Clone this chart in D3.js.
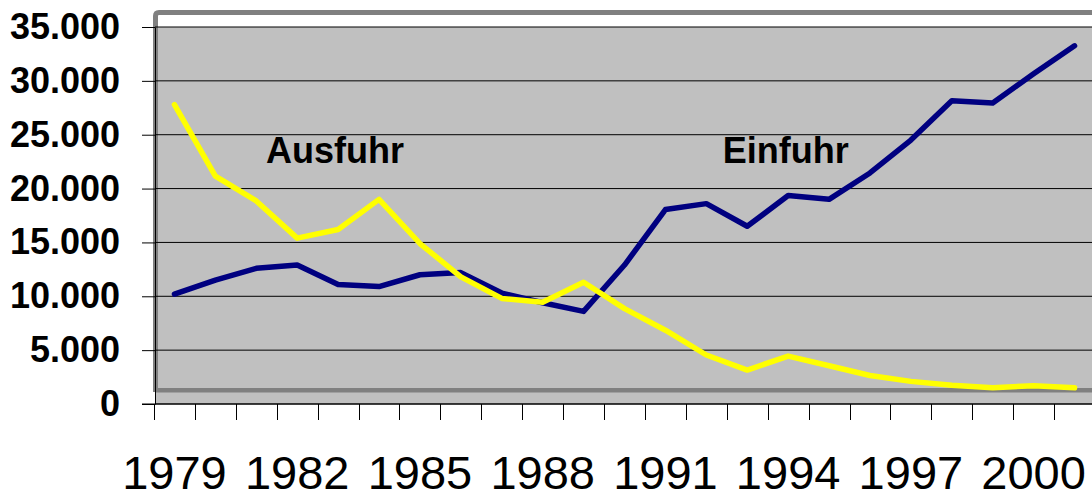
<!DOCTYPE html>
<html>
<head>
<meta charset="utf-8">
<script src="https://cdn.jsdelivr.net/npm/d3@7"></script>
<style>
  html, body { margin: 0; padding: 0; background: #fff; }
  #chart { width: 1092px; height: 492px; overflow: hidden; }
  text { font-family: "Liberation Sans", Arial, sans-serif; }
</style>
</head>
<body>
<div id="chart"></div>
<script>
var WIDTH = 1092;
var HEIGHT = 492;

// data
var years = d3.range(1979, 2002);
var einfuhr = [10200, 11500, 12600, 12900, 11100, 10900, 12000, 12200, 10300, 9400, 8600,
  12900, 18050, 18600, 16500, 19350, 19000, 21450, 24500, 28150, 27950, 30650, 33250];
var ausfuhr = [27800, 21150, 18850, 15400, 16200, 19000, 14900, 11800, 9800, 9450, 11300,
  8850, 6850, 4550, 3150, 4450, 3550, 2650, 2100, 1750, 1500, 1700, 1500];
var yTicks = [0, 5000, 10000, 15000, 20000, 25000, 30000, 35000];
var xLabelYears = [1979, 1982, 1985, 1988, 1991, 1994, 1997, 2000];
var seriesLabels = [
  { name: 'Ausfuhr', year: 1981.24, value: 22350 },
  { name: 'Einfuhr', year: 1992.4, value: 22350 }
];

var plotLeft = 155, plotTop = 27, plotBottom = 404;

var x = d3.scaleLinear().domain([1978.5, 2001.5]).range([154, 1095]);
var y = d3.scaleLinear().domain([0, 35000]).range([plotBottom, plotTop]);

var de = d3.formatLocale({ decimal: ',', thousands: '.', grouping: [3], currency: ['', ' €'] });
var fmt = de.format(',d');

var svg = d3.select('#chart')
  .append('svg')
  .attr('width', WIDTH)
  .attr('height', HEIGHT);

// back wall
svg.append('rect')
  .attr('x', plotLeft).attr('y', plotTop)
  .attr('width', WIDTH - plotLeft + 10).attr('height', plotBottom - plotTop)
  .attr('fill', '#c0c0c0');

// dark frame, top and left
svg.append('path')
  .attr('d', 'M155.5,392 V16 Q155.5,12.5 159,12.5 H' + (WIDTH + 10))
  .attr('fill', 'none')
  .attr('stroke', '#808080')
  .attr('stroke-width', 5);

// dark strip along the floor
svg.append('rect')
  .attr('x', plotLeft).attr('y', 388)
  .attr('width', WIDTH - plotLeft + 10).attr('height', 4.5)
  .attr('fill', '#808080');

// gridlines
svg.append('g')
  .selectAll('line')
  .data(yTicks)
  .enter().append('line')
    .attr('x1', plotLeft).attr('x2', WIDTH + 10)
    .attr('y1', y).attr('y2', y)
    .attr('stroke', '#000')
    .attr('stroke-width', 1);

// y axis
var yAxis = svg.append('g')
  .attr('transform', 'translate(' + plotLeft + ',0)')
  .call(d3.axisLeft(y).tickValues(yTicks).tickFormat(fmt).tickSize(13).tickSizeOuter(0).tickPadding(22));
yAxis.select('.domain').attr('stroke', '#000');
yAxis.selectAll('.tick line').attr('stroke', '#000');
yAxis.selectAll('text')
  .attr('fill', '#000')
  .style('font-family', '"Liberation Sans", Arial, sans-serif')
  .style('font-weight', 'bold')
  .style('font-size', '36px');

// x axis line and ticks at category boundaries
svg.append('line')
  .attr('x1', 142).attr('x2', WIDTH + 10)
  .attr('y1', plotBottom).attr('y2', plotBottom)
  .attr('stroke', '#000');

svg.append('g')
  .selectAll('line')
  .data(years.concat([2002]))
  .enter().append('line')
    .attr('x1', function(d) { return Math.round(x(d - 0.5)) + 0.5; })
    .attr('x2', function(d) { return Math.round(x(d - 0.5)) + 0.5; })
    .attr('y1', plotBottom).attr('y2', 420)
    .attr('stroke', '#000');

svg.append('g')
  .selectAll('text')
  .data(xLabelYears)
  .enter().append('text')
    .attr('x', x)
    .attr('y', 489)
    .attr('text-anchor', 'middle')
    .style('font-size', '47px')
    .attr('fill', '#000')
    .text(function(d) { return d; });

// series
var line = d3.line()
  .x(function(d, i) { return x(years[i]); })
  .y(function(d) { return y(d); });

svg.append('path')
  .attr('d', line(einfuhr))
  .attr('fill', 'none')
  .attr('stroke', '#000080')
  .attr('stroke-width', 5.5)
  .attr('stroke-linejoin', 'round')
  .attr('stroke-linecap', 'round');

svg.append('path')
  .attr('d', line(ausfuhr))
  .attr('fill', 'none')
  .attr('stroke', '#ffff00')
  .attr('stroke-width', 5.5)
  .attr('stroke-linejoin', 'round')
  .attr('stroke-linecap', 'round');

svg.append('g')
  .selectAll('text')
  .data(seriesLabels)
  .enter().append('text')
    .attr('x', function(d) { return x(d.year); })
    .attr('y', function(d) { return y(d.value); })
    .style('font-size', '36px')
    .style('font-weight', 'bold')
    .attr('fill', '#000')
    .text(function(d) { return d.name; });
</script>
</body>
</html>
